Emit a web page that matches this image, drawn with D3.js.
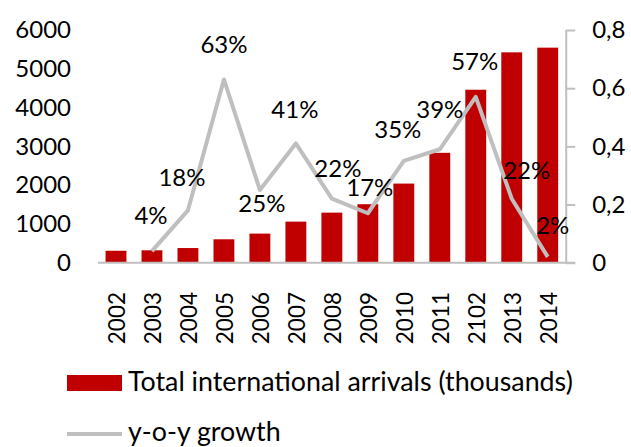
<!DOCTYPE html>
<html>
<head>
<meta charset="utf-8">
<script src="https://cdn.jsdelivr.net/npm/d3@7"></script>
<style>
  html, body { margin: 0; padding: 0; background: #fff; }
  svg { display: block; font-family: Lato, "Open Sans", sans-serif; }
</style>
</head>
<body>
<svg id="chart" width="631" height="447"></svg>
<script>
// Years on the category axis (labels as printed)
const years = ["2002","2003","2004","2005","2006","2007","2008","2009","2010","2011","2102","2013","2014"];
// Total international arrivals, thousands
const arrivals = [308, 320, 378, 604, 750, 1059, 1291, 1508, 2040, 2833, 4460, 5424, 5545];
// Year-on-year growth (no value for the first year)
const growth = [null, 0.04, 0.18, 0.63, 0.25, 0.41, 0.22, 0.17, 0.35, 0.39, 0.57, 0.22, 0.02];
// Tick values for both value axes
const leftTicks = [0, 1000, 2000, 3000, 4000, 5000, 6000];
const rightTicks = [0, 0.2, 0.4, 0.6, 0.8];
// Hand-placed label nudges for the growth labels (dx, dy from the point)
const labelNudge = [null, [-1,-35], [-6,-33], [0,-35], [2,14], [-1,-34], [6,-30], [2,-26], [-6,-31], [0,-40], [-1,-35], [15,-28], [5,-31]];

const svg = d3.select("#chart");
const plotL = 98, plotR = 565.7, plotT = 30, plotB = 262.7;

const x = d3.scaleBand().domain(years).range([plotL, plotR]).paddingInner(0.42).paddingOuter(0.21);
const yL = d3.scaleLinear().domain([0, 6000]).range([plotB, plotT]);
const yR = d3.scaleLinear().domain([0, 0.8]).range([plotB, plotT]);

const red = "#c00000", grey = "#bfbfbf";

// Bars
svg.append("g").selectAll("rect").data(arrivals).join("rect")
  .attr("x", (d, i) => x(years[i]))
  .attr("width", x.bandwidth())
  .attr("y", d => yL(d))
  .attr("height", d => yL(0) - yL(d))
  .attr("fill", red);

// Category axis baseline
svg.append("line")
  .attr("x1", plotL).attr("x2", plotR + 9.5)
  .attr("y1", plotB).attr("y2", plotB)
  .attr("stroke", grey).attr("stroke-width", 2);

// Left value axis (labels only)
const leftAxis = d3.axisLeft(yL).tickValues(leftTicks).tickSize(0).tickPadding(0).tickFormat(d3.format("d"));
const gL = svg.append("g").attr("transform", "translate(71,0)").call(leftAxis);
gL.select(".domain").remove();
gL.selectAll("text").attr("font-size", 24).attr("fill", "#000").attr("font-family", "Lato, sans-serif");

// Right value axis with line and outward ticks
const commaFmt = d => d === 0 ? "0" : d.toFixed(1).replace(".", ",");
const rightAxis = d3.axisRight(yR).tickValues(rightTicks).tickSize(9.5).tickPadding(17).tickSizeOuter(0).tickFormat(commaFmt);
const gR = svg.append("g").attr("transform", `translate(${plotR},0)`).call(rightAxis);
gR.select(".domain").attr("stroke", grey).attr("stroke-width", 2);
gR.selectAll(".tick line").attr("stroke", grey).attr("stroke-width", 2);
gR.selectAll("text").attr("font-size", 24).attr("fill", "#000").attr("font-family", "Lato, sans-serif");

// Rotated year labels
svg.append("g").selectAll("text").data(years).join("text")
  .attr("transform", d => `translate(${x(d) + x.bandwidth() / 2 + 1},292) rotate(-90)`)
  .attr("text-anchor", "end")
  .attr("dy", "0.35em")
  .attr("font-size", 22.5)
  .text(d => d);

// Growth line
const pts = growth.map((g, i) => ({ g, i })).filter(p => p.g !== null);
const line = d3.line()
  .x(p => x(years[p.i]) + x.bandwidth() / 2)
  .y(p => yR(p.g));
svg.append("path").datum(pts)
  .attr("d", line)
  .attr("fill", "none")
  .attr("stroke", grey)
  .attr("stroke-width", 4)
  .attr("stroke-linejoin", "round");

// Growth labels
svg.append("g").selectAll("text").data(pts).join("text")
  .attr("x", p => x(years[p.i]) + x.bandwidth() / 2 + labelNudge[p.i][0])
  .attr("y", p => yR(p.g) + labelNudge[p.i][1])
  .attr("text-anchor", "middle")
  .attr("dy", "0.35em")
  .attr("font-size", 24)
  .text(p => d3.format(".0%")(p.g));

// Legend
const lg = svg.append("g");
lg.append("rect").attr("x", 67).attr("y", 375).attr("width", 55).attr("height", 16).attr("fill", red);
lg.append("text").attr("x", 128).attr("y", 390.5).attr("font-size", 26.8).text("Total international arrivals (thousands)");
lg.append("line").attr("x1", 67).attr("x2", 122).attr("y1", 434).attr("y2", 434).attr("stroke", grey).attr("stroke-width", 4);
lg.append("text").attr("x", 128).attr("y", 441).attr("font-size", 26.8).text("y-o-y growth");
</script>
</body>
</html>
